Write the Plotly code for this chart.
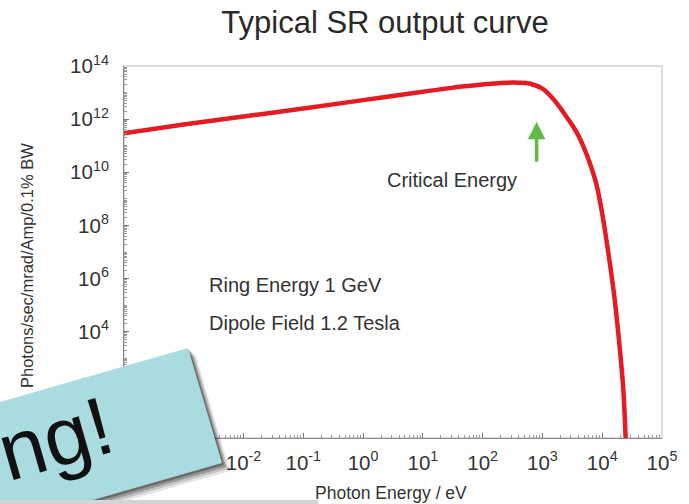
import math
import plotly.graph_objects as go

# ---- data ----
photon_energy_ev = [1e-4, 1e-3, 1e-2, 0.1, 1, 10, 30, 100, 200, 400, 630, 1000, 1260,
                    1600, 2000, 2500, 3200, 4000, 5000, 6300, 8000, 1e4, 1.26e4,
                    1.6e4, 2e4, 2.25e4, 2.5e4]
flux = [2.95e11, 6.3e11, 1.26e12, 2.5e12, 5.2e12, 1.07e13, 1.5e13, 2.0e13, 2.3e13,
        2.35e13, 2.15e13, 1.4e13, 9.0e12, 5.0e12, 2.6e12, 1.26e12, 5.6e11, 2.4e11,
        8.0e10, 2.0e10, 3.5e9, 2.8e8, 1.0e7, 2.0e5, 1.6e3, 70, 0.5]

x_exponents = [-4, -3, -2, -1, 0, 1, 2, 3, 4, 5]
y_exponents = [0, 2, 4, 6, 8, 10, 12, 14]
x_ticktext = [f"10<sup>{p}</sup>" for p in x_exponents]
y_ticktext = [f"10<sup>{p}</sup>" for p in y_exponents]

critical_energy_ev = 800
arrow_head_flux = 8e11
arrow_tail_flux = 2.2e10

# ---- layout geometry (pixels) ----
W, H = 689, 504
L, R, T, B = 124, 27, 66, 66
PW, PH = W - L - R, H - T - B


def px(x):
    return (x - L) / PW


def py(y):
    return (H - B - y) / PH


FONT = "Liberation Sans, Arial, sans-serif"

fig = go.Figure()
fig.add_trace(go.Scatter(
    x=photon_energy_ev, y=flux, mode="lines",
    line=dict(color="#E41B23", width=4.5, shape="spline", smoothing=1.0),
    hoverinfo="skip", showlegend=False,
))

axis_common = dict(
    type="log", showgrid=False, zeroline=False, showline=True,
    linecolor="#8a8a8a", linewidth=1, ticks="inside", ticklen=5,
    tickcolor="#777", tickfont=dict(family=FONT, size=20.5, color="#333"),
    tickmode="array",
    minor=dict(ticks="inside", ticklen=3, tickcolor="#999", dtick="D1", showgrid=False),
)

fig.update_xaxes(
    **axis_common, range=[-4, 5],
    tickvals=[10 ** p for p in x_exponents], ticktext=x_ticktext,
    ticklabelstandoff=6,
)
fig.update_yaxes(
    **axis_common, range=[0, 14],
    tickvals=[10 ** p for p in y_exponents], ticktext=y_ticktext,
    ticklabelstandoff=10,
)

shapes = []
# light frame around plot area
shapes.append(dict(type="rect", xref="paper", yref="paper", x0=0, x1=1, y0=0, y1=1,
                   line=dict(color="#cfcfcf", width=1.5), layer="below"))

# sticky note (rotated rectangle) with shadow
TR = (188, 348)
BR = (222, 463)
ang = math.radians(16)
dx, dy = -math.cos(ang), math.sin(ang)
TL = (TR[0] + 420 * dx, TR[1] + 420 * dy)
BL = (TL[0] + (BR[0] - TR[0]), TL[1] + (BR[1] - TR[1]))


def poly(pts, off=(0, 0)):
    s = "M " + " L ".join(f"{px(p[0] + off[0]):.5f},{py(p[1] + off[1]):.5f}" for p in pts) + " Z"
    return s


pts = [TL, TR, BR, BL]
for off, op in [((8, 8), 0.10), ((6, 6), 0.15), ((4, 4), 0.22), ((2, 2), 0.3)]:
    shapes.append(dict(type="path", xref="paper", yref="paper", path=poly(pts, off),
                       fillcolor=f"rgba(0,0,0,{op})", line=dict(width=0), layer="above"))
shapes.append(dict(type="path", xref="paper", yref="paper", path=poly(pts),
                   fillcolor="#AADBDF", line=dict(width=0), layer="above"))
# gray strip at the very bottom-left
shapes.append(dict(type="rect", xref="paper", yref="paper", x0=px(0), x1=px(318),
                   y0=py(504), y1=py(500), fillcolor="#d4d4d4", line=dict(width=0), layer="above"))

annotations = [
    dict(text="Photons/sec/mrad/Amp/0.1% BW", xref="paper", yref="paper",
         x=px(27), y=py(266), textangle=-90, showarrow=False,
         font=dict(family=FONT, size=16.5, color="#333"), xanchor="center", yanchor="middle"),
    dict(text="Photon Energy / eV", xref="paper", yref="paper",
         x=px(391), y=py(493), showarrow=False,
         font=dict(family=FONT, size=17.5, color="#333"), xanchor="center", yanchor="middle"),
    dict(text="Critical Energy", xref="paper", yref="paper", x=px(452), y=py(180),
         showarrow=False, font=dict(family=FONT, size=20, color="#333"),
         xanchor="center", yanchor="middle"),
    dict(text="Ring Energy 1 GeV", xref="paper", yref="paper", x=px(207), y=py(285),
         showarrow=False, font=dict(family=FONT, size=20, color="#333"),
         xanchor="left", yanchor="middle"),
    dict(text="Dipole Field 1.2 Tesla", xref="paper", yref="paper", x=px(207), y=py(323),
         showarrow=False, font=dict(family=FONT, size=20, color="#333"),
         xanchor="left", yanchor="middle"),
    dict(text="", x=math.log10(critical_energy_ev), y=math.log10(arrow_head_flux),
         xref="x", yref="y", ax=math.log10(critical_energy_ev), ay=math.log10(arrow_tail_flux),
         axref="x", ayref="y", showarrow=True, arrowhead=2, arrowsize=1.0,
         arrowwidth=3.5, arrowcolor="#5DBB46"),
    dict(text="ng!", xref="paper", yref="paper", x=px(55), y=py(438), textangle=-16,
         showarrow=False, font=dict(family=FONT, size=82, color="#111"),
         xanchor="center", yanchor="middle"),
]

fig.update_layout(
    width=W, height=H, margin=dict(l=L, r=R, t=T, b=B),
    paper_bgcolor="white", plot_bgcolor="white",
    title=dict(text="Typical SR output curve", x=385 / W, xanchor="center",
               y=1 - 22 / H, yanchor="middle",
               font=dict(family=FONT, size=31, color="#2a2a2a")),
    shapes=shapes, annotations=annotations, showlegend=False,
)

fig.write_html("out.html")
